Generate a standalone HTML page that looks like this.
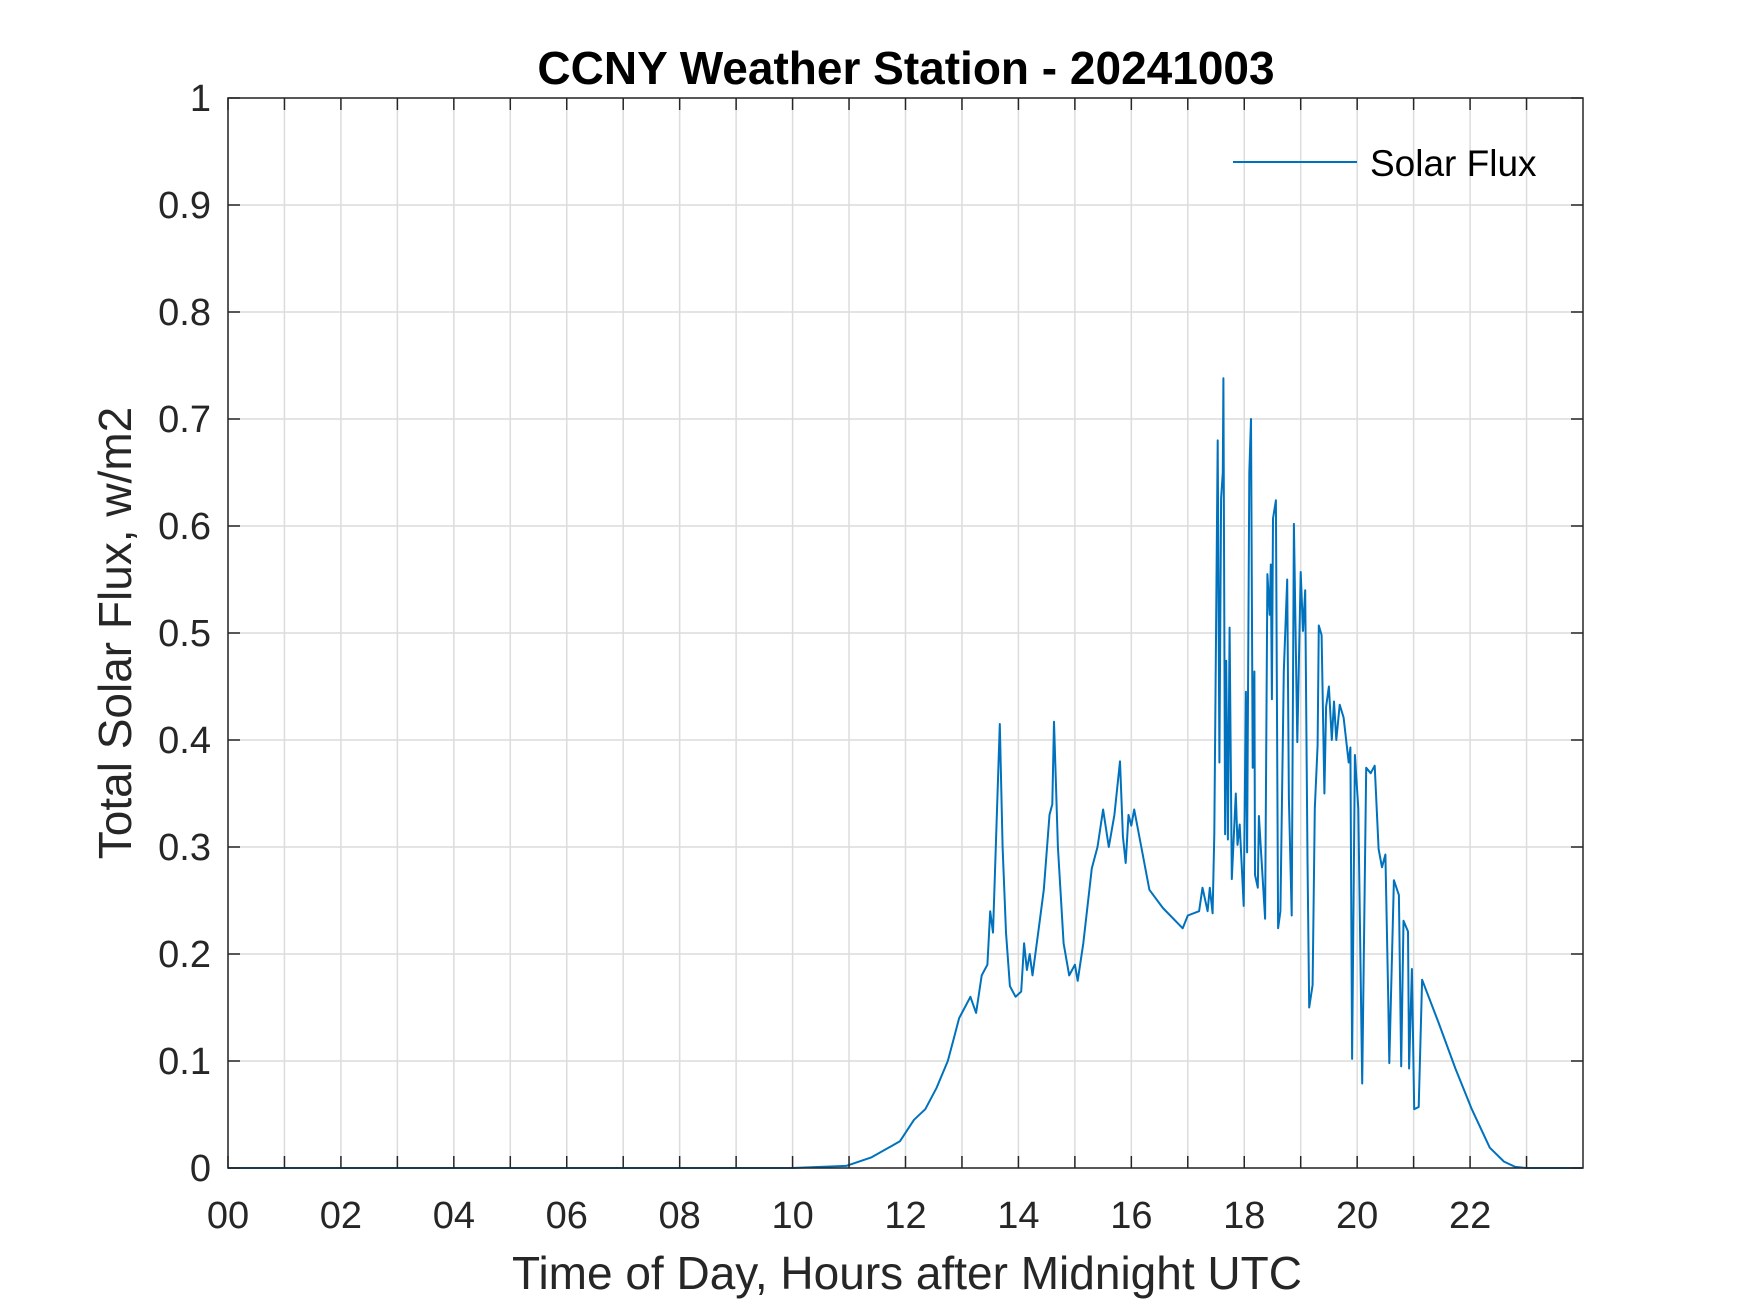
<!DOCTYPE html>
<html><head><meta charset="utf-8"><style>
html,body{margin:0;padding:0;background:#fff;}
svg{display:block;font-family:"Liberation Sans",Arial,sans-serif;}
</style></head><body>
<svg id="chart" width="1750" height="1313" viewBox="0 0 1750 1313" xmlns="http://www.w3.org/2000/svg">
<rect x="0" y="0" width="1750" height="1313" fill="#fff"/>
<g id="grid"></g>
<g id="series"></g>
<g id="axes"></g>
<text x="906" y="84" text-anchor="middle" font-size="46" font-weight="bold" fill="#000">CCNY Weather Station - 20241003</text>
<text x="907" y="1289" text-anchor="middle" font-size="46" fill="#262626">Time of Day, Hours after Midnight UTC</text>
<text transform="translate(131,633) rotate(-90)" text-anchor="middle" font-size="46" fill="#262626">Total Solar Flux, w/m2</text>
<g>
<line x1="1233" y1="162" x2="1357" y2="162" stroke="#0072BD" stroke-width="2"/>
<text x="1370" y="176" font-size="37" fill="#000">Solar Flux</text>
</g>
</svg>
<script>
const hours = [0,2,4,6,8,10,10.95,11.4,11.9,12.15,12.35,12.55,12.75,12.85,12.95,13.05,13.15,13.25,13.35,13.45,13.5,13.55,13.6,13.67,13.72,13.78,13.85,13.95,14.05,14.1,14.15,14.2,14.25,14.35,14.45,14.55,14.6,14.63,14.7,14.8,14.9,15.0,15.05,15.15,15.3,15.4,15.5,15.6,15.7,15.8,15.85,15.9,15.95,16.0,16.05,16.32,16.56,16.91,17.0,17.2,17.26,17.35,17.39,17.44,17.47,17.53,17.56,17.59,17.62,17.63,17.66,17.68,17.71,17.74,17.78,17.85,17.88,17.92,17.99,18.03,18.05,18.09,18.12,18.15,18.18,18.19,18.24,18.26,18.37,18.41,18.45,18.47,18.49,18.51,18.56,18.6,18.64,18.7,18.76,18.79,18.84,18.88,18.94,19.0,19.04,19.08,19.12,19.15,19.21,19.25,19.3,19.32,19.37,19.42,19.45,19.5,19.55,19.59,19.63,19.69,19.76,19.85,19.88,19.91,19.96,20.02,20.09,20.16,20.24,20.31,20.38,20.44,20.5,20.55,20.57,20.65,20.74,20.78,20.82,20.9,20.92,20.97,21.01,21.09,21.15,21.44,21.74,22.03,22.35,22.6,22.8,23.0,23.98];
const fluxValues = [0,0,0,0,0,0,0.002,0.01,0.025,0.045,0.055,0.075,0.1,0.12,0.14,0.15,0.16,0.145,0.18,0.19,0.24,0.22,0.3,0.415,0.3,0.22,0.17,0.16,0.165,0.21,0.185,0.2,0.18,0.22,0.26,0.33,0.34,0.417,0.3,0.21,0.18,0.19,0.175,0.21,0.28,0.3,0.335,0.3,0.33,0.38,0.31,0.285,0.33,0.32,0.335,0.26,0.243,0.224,0.236,0.24,0.262,0.24,0.262,0.238,0.312,0.68,0.379,0.626,0.65,0.738,0.312,0.474,0.307,0.505,0.27,0.35,0.302,0.321,0.245,0.445,0.295,0.65,0.7,0.374,0.464,0.274,0.262,0.329,0.233,0.555,0.517,0.564,0.438,0.607,0.624,0.224,0.24,0.464,0.55,0.345,0.236,0.602,0.398,0.557,0.502,0.54,0.288,0.15,0.171,0.336,0.395,0.507,0.498,0.35,0.431,0.45,0.4,0.436,0.4,0.433,0.421,0.379,0.393,0.102,0.386,0.336,0.079,0.374,0.369,0.376,0.298,0.281,0.293,0.16,0.098,0.269,0.255,0.095,0.231,0.221,0.093,0.186,0.055,0.057,0.176,0.136,0.093,0.055,0.019,0.006,0.001,0,0];
const xTicks = [0,2,4,6,8,10,12,14,16,18,20,22];
const xTickLabels = ["00","02","04","06","08","10","12","14","16","18","20","22"];
const xMinorGrid = [1,3,5,7,9,11,13,15,17,19,21,23];
const yTicks = [0,0.1,0.2,0.3,0.4,0.5,0.6,0.7,0.8,0.9,1];
const yTickLabels = ["0","0.1","0.2","0.3","0.4","0.5","0.6","0.7","0.8","0.9","1"];

const L=228,R=1583,T=98,B=1168,XMAX=24;
function xs(h){return L+(h/XMAX)*(R-L);}
function ys(v){return B-v*(B-T);}
const NS="http://www.w3.org/2000/svg";
function mk(tag,parent,attrs){const e=document.createElementNS(NS,tag);for(const k in attrs)e.setAttribute(k,attrs[k]);parent.appendChild(e);return e;}
const grid=document.getElementById('grid'),axes=document.getElementById('axes'),series=document.getElementById('series');
xTicks.concat(xMinorGrid).forEach(h=>{
  const g=mk('line',grid,{x1:xs(h),x2:xs(h),y1:T,y2:B,stroke:'#dcdcdc','stroke-width':1.5});
  
  
  [[B,B-12],[T,T+12]].forEach(p=>{const t=mk('line',axes,{x1:xs(h),x2:xs(h),y1:p[0],y2:p[1],stroke:'#262626','stroke-width':1.5});
    
    });
});
xTicks.forEach((h,i)=>{
  const t=mk('text',axes,{x:xs(h),y:1228,'text-anchor':'middle','font-size':38,fill:'#262626'});
  t.textContent=xTickLabels[i];
  
  
});
yTicks.forEach((v,i)=>{
  const g=mk('line',grid,{x1:L,x2:R,y1:ys(v),y2:ys(v),stroke:'#dcdcdc','stroke-width':1.5});
  
  
  [[L,L+12],[R,R-12]].forEach(p=>{const t=mk('line',axes,{x1:p[0],x2:p[1],y1:ys(v),y2:ys(v),stroke:'#262626','stroke-width':1.5});
    
    });
  const t=mk('text',axes,{x:211,y:ys(v)+13,'text-anchor':'end','font-size':38,fill:'#262626'});
  t.textContent=yTickLabels[i];
  
  
});
const box=mk('rect',axes,{x:L,y:T,width:R-L,height:B-T,fill:'none',stroke:'#262626','stroke-width':1.5});


const pts=hours.map((h,i)=>xs(h).toFixed(1)+','+ys(fluxValues[i]).toFixed(1)).join(' ');
const line=mk('polyline',series,{points:pts,fill:'none',stroke:'#0072BD','stroke-width':2,'stroke-linejoin':'round'});


</script>
</body></html>
